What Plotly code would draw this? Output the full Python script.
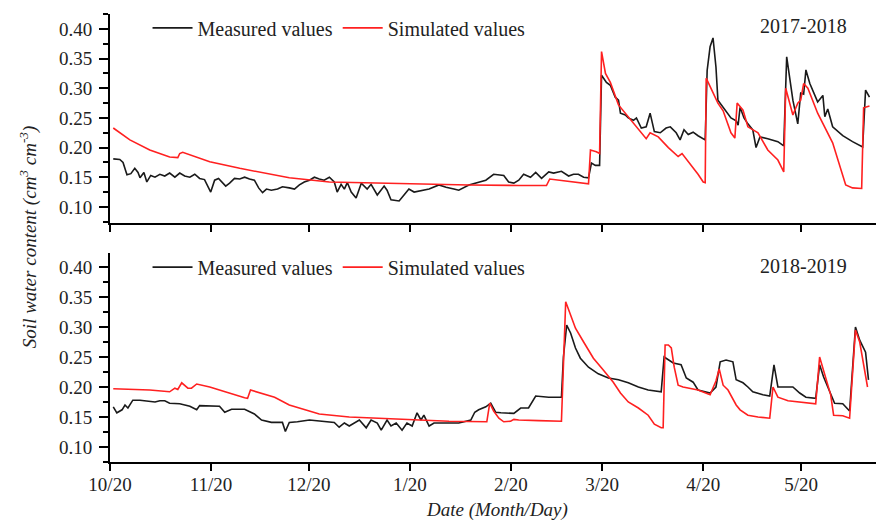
import pandas as pd
import plotly.graph_objects as go

# ---------------- data (days after Oct 20, value in cm3 cm-3) ----------------
meas1_day = [1, 3, 4, 5.2, 6.4, 7.6, 8.6, 9.2, 10.4, 11.3, 12.5, 13.8, 15.3, 16.8, 18.3, 19.9, 21.4,
             22.9, 24.5, 26, 27.5, 29, 30.9, 32.1, 33.3, 34.3, 35.5, 36.7, 38.2, 39.8, 41.3, 42.8,
             44.3, 45.6, 46.8, 48, 49.5, 51.4, 52.9, 55, 56.6, 58.1, 59.6, 61.2, 62.7, 64.2, 65.7,
             67.3, 68.8, 69.7, 70.9, 71.9, 72.8, 74, 75.5, 77.1, 78.9, 80.1, 82, 84.1, 85, 86.2,
             88.7, 90.2, 91.7, 93.3, 95.4, 97.9, 100.9, 103.1, 105.5, 107, 110.1, 113.1, 115.3,
             117.7, 120.8, 122.3, 123.9, 125.4, 126.9, 129, 130.6, 132.4, 134.6, 136.1, 138.5,
             140.7, 142.2, 143.7, 145.3, 146.8, 147.7, 148.9, 150.2, 150.8, 152.3, 153.5, 155,
             156, 156.6, 158.1, 159, 160.6, 161.5, 163, 164.5, 165.7, 167, 168.8, 170.6, 171.9,
             173.7, 174.9, 176.1, 177.4, 178.9, 180.4, 182.6, 183.2, 184.1, 185, 185.9, 186.5,
             187.2, 188.7, 190.5, 192.1, 192.7, 193.3, 194.5, 195.7, 197.2, 198.2, 199.4, 201.8,
             204.9, 206.7, 207.6, 209.5, 211, 211.9, 212.8, 213.5, 214.7, 217.1, 218.7, 219.3,
             220.2, 221.7, 224.8, 227.8, 230.9, 231.8, 233]
meas1_val = [0.181, 0.18, 0.175, 0.154, 0.156, 0.165, 0.158, 0.149, 0.158, 0.142, 0.153, 0.15, 0.155,
             0.152, 0.157, 0.15, 0.157, 0.152, 0.15, 0.155, 0.148, 0.146, 0.125, 0.145, 0.148, 0.142,
             0.135, 0.14, 0.148, 0.147, 0.15, 0.147, 0.145, 0.132, 0.124, 0.13, 0.128, 0.13, 0.134,
             0.132, 0.13, 0.137, 0.142, 0.145, 0.15, 0.147, 0.145, 0.15, 0.142, 0.125, 0.138, 0.13,
             0.141, 0.125, 0.115, 0.14, 0.13, 0.138, 0.12, 0.135, 0.128, 0.112, 0.11, 0.12, 0.13,
             0.125, 0.127, 0.13, 0.137, 0.133, 0.13, 0.128, 0.137, 0.142, 0.145, 0.155, 0.153,
             0.142, 0.14, 0.145, 0.155, 0.15, 0.158, 0.148, 0.159, 0.157, 0.16, 0.152, 0.155, 0.155,
             0.15, 0.149, 0.174, 0.17, 0.17, 0.322, 0.31, 0.305, 0.285, 0.28, 0.258, 0.255, 0.25,
             0.246, 0.25, 0.233, 0.235, 0.258, 0.227, 0.225, 0.233, 0.235, 0.225, 0.213, 0.23,
             0.222, 0.226, 0.22, 0.213, 0.33, 0.37, 0.385, 0.336, 0.28, 0.275, 0.263, 0.25, 0.245,
             0.238, 0.268, 0.25, 0.24, 0.23, 0.2, 0.218, 0.215, 0.21, 0.203, 0.353, 0.28, 0.24,
             0.292, 0.29, 0.331, 0.308, 0.277, 0.288, 0.252, 0.265, 0.235, 0.22, 0.21, 0.201,
             0.297, 0.285]

sim1_day = [1, 6.1, 12.2, 18.3, 20.8, 21.4, 22.3, 26, 30.6, 39.8, 48.9, 55, 67.3, 82.6, 97.9, 110.1,
            125.4, 133.9, 134.9, 137.6, 142.2, 146.8, 147.4, 149.2, 150.2, 150.8, 152, 153.5, 156,
            159, 162.1, 164.5, 165.7, 168.2, 171.3, 174.3, 175.5, 177.4, 180.4, 182, 182.6, 182.9,
            185, 186.5, 188.1, 190.5, 191.7, 192.4, 194.2, 195.7, 198.8, 201.8, 204.9, 206.7,
            207.3, 209.5, 211, 211.9, 212.8, 214.1, 217.1, 221.7, 225.7, 227.8, 230.6, 231.2, 233]
sim1_val = [0.233, 0.213, 0.196, 0.184, 0.183, 0.19, 0.192, 0.185, 0.176, 0.165, 0.155, 0.149, 0.142,
            0.14, 0.139, 0.137, 0.136, 0.136, 0.147, 0.145, 0.142, 0.139, 0.196, 0.193, 0.19, 0.362,
            0.325, 0.31, 0.272, 0.252, 0.23, 0.215, 0.225, 0.218, 0.2, 0.185, 0.19, 0.177, 0.155,
            0.142, 0.141, 0.317, 0.292, 0.275, 0.262, 0.225, 0.216, 0.275, 0.263, 0.235, 0.225,
            0.196, 0.179, 0.159, 0.30, 0.255, 0.275, 0.28, 0.308, 0.3, 0.258, 0.208, 0.137, 0.132,
            0.131, 0.267, 0.27]

meas2_day = [1, 2.1, 3.7, 4.6, 5.5, 7, 9.2, 13.8, 15.3, 16.8, 18.3, 21.4, 24.5, 26.6, 27.5, 33.6,
             35.2, 37.3, 41.3, 44.3, 46.5, 49.5, 52.9, 53.8, 55, 57.5, 61.2, 64.2, 68.8, 70.3, 71.9,
             73.4, 76.5, 78.6, 80.1, 82, 83.2, 85, 86.2, 87.8, 89.6, 91.1, 92.7, 94.2, 95.4, 96.3,
             97.9, 99.4, 107, 108.6, 110.7, 111.9, 113.1, 115.3, 116.8, 118.3, 119.9, 123.9, 126,
             128.4, 130.6, 134.6, 138.5, 139.1, 140.1, 141.3, 142.8, 144.3, 146.8, 149.8, 152.9,
             156, 159, 162.1, 165.1, 169.1, 170, 172.8, 175.2, 176.8, 178.9, 180.4, 184.1, 185.9,
             187.2, 189, 191.1, 192.1, 194.2, 195.7, 197.2, 200.3, 202.4, 203.7, 204.9, 208, 209.5,
             211.6, 213.5, 216.5, 217.7, 218.9, 221.1, 222.3, 224.8, 226.9, 228.7, 230, 231.8, 232.7]
meas2_val = [0.167, 0.157, 0.162, 0.17, 0.165, 0.178, 0.178, 0.175, 0.177, 0.177, 0.173, 0.172, 0.168,
             0.162, 0.169, 0.168, 0.158, 0.163, 0.163, 0.155, 0.145, 0.141, 0.141, 0.126, 0.141,
             0.142, 0.145, 0.143, 0.141, 0.133, 0.14, 0.135, 0.145, 0.132, 0.145, 0.14, 0.128, 0.145,
             0.135, 0.14, 0.128, 0.14, 0.135, 0.157, 0.145, 0.153, 0.135, 0.14, 0.14, 0.142, 0.145,
             0.158, 0.162, 0.167, 0.173, 0.158, 0.157, 0.156, 0.165, 0.165, 0.185, 0.183, 0.183,
             0.25, 0.303, 0.29, 0.265, 0.248, 0.233, 0.222, 0.215, 0.212, 0.207, 0.2, 0.195, 0.192,
             0.25, 0.24, 0.237, 0.215, 0.208, 0.195, 0.19, 0.2, 0.242, 0.245, 0.242, 0.212, 0.207,
             0.2, 0.192, 0.187, 0.185, 0.237, 0.2, 0.2, 0.2, 0.19, 0.183, 0.181, 0.237, 0.217, 0.19,
             0.173, 0.172, 0.16, 0.3, 0.278, 0.258, 0.212]

sim2_day = [1, 12.2, 18.3, 19.9, 20.8, 22, 23.9, 25, 26.6, 30.6, 41.3, 42.2, 43.1, 45.9, 50.5, 55,
            58.1, 64.2, 73.4, 88.7, 104, 115.6, 116.5, 117.7, 119.3, 120.8, 122.9, 123.9, 125.4,
            131.5, 138.5, 139.8, 141.3, 142.8, 145.3, 148.3, 151.4, 154.4, 156.6, 159, 162.1, 165.1,
            167, 169.1, 169.7, 170.3, 171.3, 172.2, 173.1, 174.3, 175.8, 180.4, 184.1, 185.9, 186.9,
            188.1, 189.6, 192.1, 193.3, 195.7, 198.8, 202.4, 203.4, 204.9, 208, 211, 216.5, 217.7,
            219.6, 221.1, 222, 224.8, 226.9, 228.7, 230, 231.2, 232.4]
sim2_val = [0.197, 0.195, 0.192, 0.198, 0.196, 0.207, 0.198, 0.198, 0.205, 0.2, 0.182, 0.181, 0.195,
            0.19, 0.183, 0.17, 0.165, 0.155, 0.15, 0.147, 0.143, 0.142, 0.173, 0.16, 0.148, 0.142,
            0.143, 0.146, 0.145, 0.144, 0.143, 0.342, 0.32, 0.298, 0.275, 0.248, 0.228, 0.208, 0.19,
            0.175, 0.165, 0.153, 0.138, 0.132, 0.132, 0.27, 0.27, 0.265, 0.233, 0.203, 0.2, 0.195,
            0.187, 0.21, 0.23, 0.203, 0.195, 0.17, 0.162, 0.153, 0.15, 0.148, 0.2, 0.183, 0.177,
            0.175, 0.172, 0.25, 0.217, 0.187, 0.153, 0.152, 0.148, 0.295, 0.275, 0.24, 0.2]

season_labels = ["2017-2018", "2018-2019"]
season_start = ["2017-10-20", "2018-10-20"]
tick_months = [10, 11, 12, 1, 2, 3, 4, 5]
y_ticks = [0.10, 0.15, 0.20, 0.25, 0.30, 0.35, 0.40]
# -----------------------------------------------------------------------------

FONT = "Liberation Serif, Times New Roman, serif"
BLACK = "#1a1a1a"
RED = "#ff2020"


def to_dates(start, days):
    return pd.Timestamp(start) + pd.to_timedelta(days, unit="D")


def tick_dates(start):
    s = pd.Timestamp(start)
    out = []
    for m in tick_months:
        yr = s.year if m >= 10 else s.year + 1
        out.append(pd.Timestamp(year=yr, month=m, day=20))
    return out


fig = go.Figure()
series = [(meas1_day, meas1_val, sim1_day, sim1_val), (meas2_day, meas2_val, sim2_day, sim2_val)]
for i, (md, mv, sd, sv) in enumerate(series):
    ax = "" if i == 0 else "2"
    lg = "legend" if i == 0 else "legend2"
    fig.add_trace(go.Scatter(x=to_dates(season_start[i], md), y=mv, mode="lines",
                             name="Measured values", line=dict(color=BLACK, width=1.6),
                             xaxis="x" + ax, yaxis="y" + ax, legend=lg))
    fig.add_trace(go.Scatter(x=to_dates(season_start[i], sd), y=sv, mode="lines",
                             name="Simulated values", line=dict(color=RED, width=1.6),
                             xaxis="x" + ax, yaxis="y" + ax, legend=lg))

common_x = dict(showgrid=False, zeroline=False, showline=True, linecolor="black", linewidth=2,
                ticks="outside", ticklen=7, tickwidth=2, tickcolor="black", ticklabelstandoff=-3,
                tickfont=dict(family=FONT, size=19, color="#222"))
common_y = dict(showgrid=False, zeroline=False, showline=True, linecolor="black", linewidth=2,
                ticks="outside", ticklen=9, tickwidth=2, tickcolor="black", ticklabelstandoff=3,
                tickvals=y_ticks, ticktext=[f"{v:.2f}" for v in y_ticks],
                minor=dict(dtick=0.025, tick0=0.1, ticklen=5, tickwidth=1.5, ticks="outside",
                           tickcolor="black"),
                tickfont=dict(family=FONT, size=19, color="#222"))

for i in range(2):
    tv = tick_dates(season_start[i])
    rng = [pd.Timestamp(season_start[i]), to_dates(season_start[i], 235)]
    xa = dict(common_x, range=rng, tickvals=tv, ticktext=[f"{d.month}/{d.day}" for d in tv],
              anchor="y" if i == 0 else "y2", domain=[0, 1])
    if i == 0:
        xa["showticklabels"] = False
        fig.update_layout(xaxis=xa)
    else:
        fig.update_layout(xaxis2=xa)

fig.update_layout(
    yaxis=dict(common_y, range=[0.0728, 0.4253], domain=[0.5335, 1], anchor="x"),
    yaxis2=dict(common_y, range=[0.075, 0.4233], domain=[0, 0.4665], anchor="x2"),
)

leg = dict(orientation="h", xanchor="left", yanchor="middle", bgcolor="rgba(0,0,0,0)",
           font=dict(family=FONT, size=20, color="#222"), itemwidth=40, tracegroupgap=0)
fig.update_layout(
    legend=dict(leg, x=0.049, y=0.969),
    legend2=dict(leg, x=0.049, y=0.435),
)

ann = []
for i, yy in enumerate([0.973, 0.437]):
    ann.append(dict(text=season_labels[i], xref="paper", yref="paper", x=0.906, y=yy,
                    showarrow=False, xanchor="center", yanchor="middle",
                    font=dict(family=FONT, size=20, color="#222")))
ann.append(dict(text="<i>Soil water content (cm<sup>3</sup> cm<sup>-3</sup>)</i>", xref="paper",
                yref="paper", x=-0.107, y=0.502, textangle=-90, showarrow=False,
                xanchor="center", yanchor="middle", font=dict(family=FONT, size=19, color="#222")))
ann.append(dict(text="<i>Date (Month/Day)</i>", xref="paper", yref="paper", x=0.505, y=-0.107,
                showarrow=False, xanchor="center", yanchor="middle",
                font=dict(family=FONT, size=19, color="#222")))

fig.update_layout(
    annotations=ann,
    width=878, height=522,
    margin=dict(l=110, r=2, t=14, b=60),
    paper_bgcolor="white", plot_bgcolor="white",
    showlegend=True,
)

fig.write_html("out.html", config={"displayModeBar": False},
               post_script="document.body.style.margin='0';document.body.style.overflow='hidden';")
